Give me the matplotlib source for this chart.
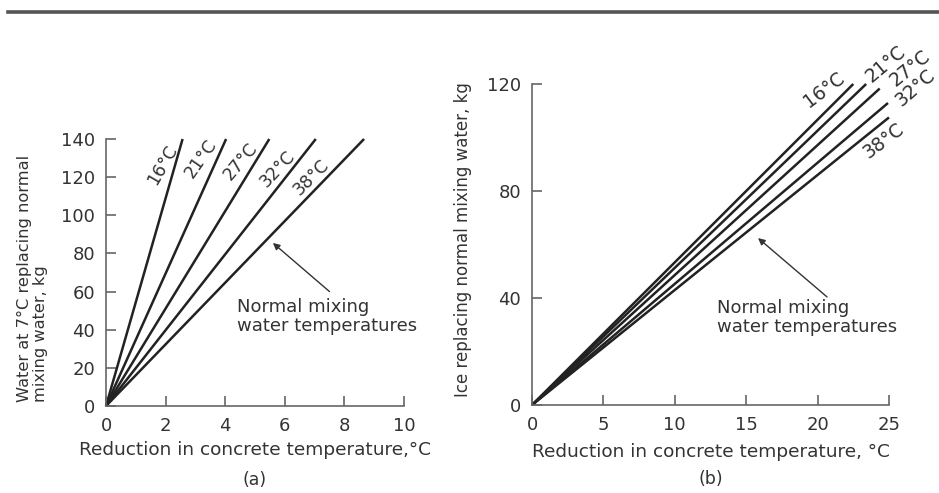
import matplotlib
matplotlib.use("Agg")
import matplotlib.pyplot as plt
from matplotlib.lines import Line2D

plt.rcParams['font.family'] = ['DejaVu Sans']

# Temperatures of normal mixing water
temp_labels = ["16°C", "21°C", "27°C", "32°C", "38°C"]

# (a) water at 7 °C: reduction reached at 140 kg
water_reduction_end = [2.57, 4.03, 5.48, 7.04, 8.66]
water_kg_end = [140, 140, 140, 140, 140]

# (b) ice: end point of each line
ice_reduction_end = [22.5, 23.4, 24.35, 24.93, 25.0]
ice_kg_end = [120, 120, 118.3, 112.9, 107.5]

W, H = 939, 493
fig = plt.figure(figsize=(W / 100, H / 100), dpi=100)


def fx(px):
    return px / W


def fy(py):
    return 1 - py / H


ax_a = fig.add_axes([fx(106), fy(406), fx(404) - fx(106), fy(139) - fy(406)])
ax_b = fig.add_axes([fx(532), fy(405), fx(889) - fx(532), fy(84) - fy(405)])

spine_col = "#666666"
line_col = "#222222"
text_col = "#333333"

for ax in (ax_a, ax_b):
    for s in ("top", "right"):
        ax.spines[s].set_visible(False)
    for s in ("left", "bottom"):
        ax.spines[s].set_color(spine_col)
        ax.spines[s].set_linewidth(1.2)
    ax.tick_params(direction="in", length=7, width=1.2, color=spine_col,
                   labelsize=13, labelcolor=text_col, pad=8)
    ax.set_facecolor("none")

# (a)
ax_a.set_xlim(0, 10)
ax_a.set_ylim(0, 140)
ax_a.set_xticks([0, 2, 4, 6, 8, 10])
ax_a.set_yticks([0, 20, 40, 60, 80, 100, 120, 140])
for xe, ye in zip(water_reduction_end, water_kg_end):
    ax_a.plot([0, xe], [0, ye], color=line_col, lw=1.8, solid_capstyle="butt", clip_on=False)

a_label_pos = [(1.91, 126.4), (3.18, 129.5), (4.53, 128.5), (5.75, 124.3), (6.90, 119.8)]
a_label_rot = [60, 55, 50, 47, 45]
for lab, (x, y), r in zip(temp_labels, a_label_pos, a_label_rot):
    ax_a.text(x, y, lab, rotation=r, rotation_mode="anchor", ha="center", va="center",
              fontsize=12.5, color=text_col)

ax_a.annotate("", xy=(5.6, 85.5), xytext=(7.5, 60.0),
              arrowprops=dict(arrowstyle="-|>", color=text_col, lw=1.0,
                              mutation_scale=10, shrinkA=0, shrinkB=0))
ax_a.text(4.40, 46.9, "Normal mixing\nwater temperatures", ha="left", va="center",
          fontsize=13, color=text_col, linespacing=1.1)

# (b)
ax_b.set_xlim(0, 25)
ax_b.set_ylim(0, 120)
ax_b.set_xticks([0, 5, 10, 15, 20, 25])
ax_b.set_yticks([0, 40, 80, 120])
for xe, ye in zip(ice_reduction_end, ice_kg_end):
    ax_b.plot([0, xe], [0, ye], color=line_col, lw=1.8, solid_capstyle="butt", clip_on=False)

b_label_pos = [(20.45, 117.8), (24.8, 127.5), (26.5, 126.0), (26.85, 118.5), (24.6, 98.7)]
b_label_rot = [37, 40, 39, 41, 37]
for lab, (x, y), r in zip(temp_labels, b_label_pos, b_label_rot):
    ax_b.text(x, y, lab, rotation=r, rotation_mode="anchor", ha="center", va="center",
              fontsize=13.5, color=text_col, clip_on=False)

ax_b.annotate("", xy=(15.83, 62.4), xytext=(20.66, 40.4),
              arrowprops=dict(arrowstyle="-|>", color=text_col, lw=1.0,
                              mutation_scale=10, shrinkA=0, shrinkB=0))
ax_b.text(12.95, 32.7, "Normal mixing\nwater temperatures", ha="left", va="center",
          fontsize=13, color=text_col, linespacing=1.1)

# Axis titles and panel captions
fig.text(fx(32.5), fy(402), "Water at 7°C replacing normal\nmixing water, kg",
         rotation=90, rotation_mode="anchor", ha="left", va="center",
         multialignment="left", fontsize=11.7, color=text_col, linespacing=1.15)
fig.text(fx(463), fy(240), "Ice replacing normal mixing water, kg",
         rotation=90, ha="center", va="center", fontsize=12, color=text_col)
fig.text(fx(255), fy(450), "Reduction in concrete temperature,°C",
         ha="center", va="center", fontsize=13.3, color=text_col)
fig.text(fx(711), fy(452), "Reduction in concrete temperature, °C",
         ha="center", va="center", fontsize=13.3, color=text_col)
fig.text(fx(255), fy(480), "(a)", ha="center", va="center", fontsize=12.5, color=text_col)
fig.text(fx(711), fy(479), "(b)", ha="center", va="center", fontsize=12.5, color=text_col)

# Rule across the top
fig.add_artist(Line2D([fx(8), 1.0], [fy(12), fy(12)], color="#555555", lw=2.6,
                      transform=fig.transFigure))

fig.savefig("out.png", dpi=100)
